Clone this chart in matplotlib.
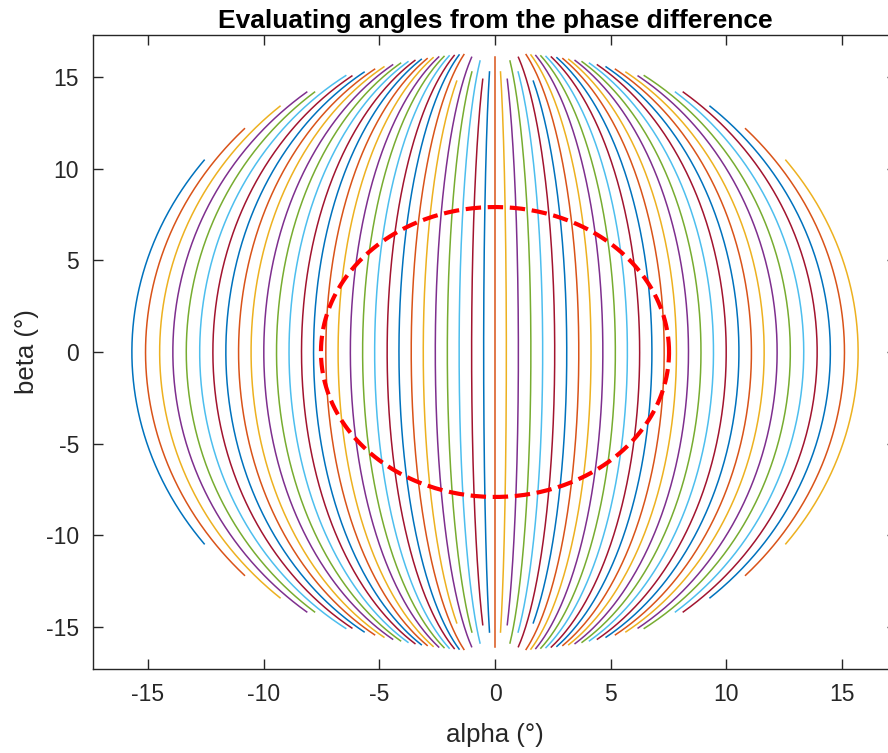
import numpy as np
import matplotlib
matplotlib.use('Agg')
import matplotlib.pyplot as plt

plt.rcParams['font.family'] = ['Liberation Sans', 'DejaVu Sans']
plt.rcParams['axes.unicode_minus'] = False

# alpha of each constant-phase arc where it crosses beta = 0 (deg), left to right
alpha_at_zero = [-15.69, -15.10, -14.49, -13.92, -13.34, -12.76, -12.19, -11.63, -11.08, -10.54,
                 -9.99, -9.44, -8.90, -8.36, -7.84, -7.31, -6.78, -6.25, -5.72, -5.20,
                 -4.66, -4.15, -3.62, -3.10, -2.58, -2.06, -1.55, -1.01, -0.49, 0.0,
                 0.49, 1.01, 1.55, 2.06, 2.58, 3.10, 3.62, 4.15, 4.66, 5.20,
                 5.72, 6.25, 6.78, 7.31, 7.84, 8.36, 8.90, 9.44, 9.99, 10.54,
                 11.08, 11.63, 12.19, 12.76, 13.34, 13.92, 14.49, 15.10, 15.69]
# largest |beta| reached by each arc (deg), same order
beta_end = [10.48, 12.2, 13.43, 14.2, 14.2, 15.1, 15.08, 15.29, 15.45, 15.58,
            15.69, 15.78, 15.86, 15.93, 15.99, 16.03, 16.08, 16.12, 16.15, 16.18,
            16.2, 16.23, 16.25, 14.8, 16.1, 15.3, 15.9, 14.9, 15.3, 16.1,
            15.3, 14.9, 15.9, 15.3, 16.1, 14.8, 16.25, 16.23, 16.2, 16.18,
            16.15, 16.12, 16.08, 16.03, 15.99, 15.93, 15.86, 15.78, 15.69, 15.58,
            15.45, 15.29, 15.08, 15.1, 14.2, 14.2, 13.43, 12.2, 10.48]
# beta at which the arcs would close on alpha = 0
beta_limit = 17.5

# dashed reference contour (semi-axes in deg)
contour_alpha = 7.52
contour_beta = 7.92

matlab_colors = ['#0072BD', '#D95319', '#EDB120', '#7E2F8E', '#77AC30', '#4DBEEE', '#A2142F']

fig = plt.figure(figsize=(8.88, 7.53), dpi=100)
ax = fig.add_axes([93 / 888, 84 / 753, 804 / 888, 634 / 753])

for i, (a0, b1) in enumerate(zip(alpha_at_zero, beta_end)):
    beta = np.linspace(-b1, b1, 300)
    alpha = a0 * np.sqrt(1 - (beta / beta_limit) ** 2)
    ax.plot(alpha, beta, color=matlab_colors[i % 7], linewidth=1.1)

t = np.linspace(0, 2 * np.pi, 400)
ax.plot(contour_alpha * np.cos(t), contour_beta * np.sin(t), 'r--', linewidth=3)

ax.set_xlim(-17.37, 17.37)
ax.set_ylim(-17.32, 17.32)
ticks = [-15, -10, -5, 0, 5, 10, 15]
ax.set_xticks(ticks)
ax.set_yticks(ticks)
ax.tick_params(direction='in', length=7, width=1, colors='#262626', labelsize=16.5,
               top=True, right=True, pad=10)
for s in ax.spines.values():
    s.set_color('#262626')
    s.set_linewidth(1)

ax.set_title('Evaluating angles from the phase difference', fontsize=19, fontweight='bold', pad=5)
ax.set_xlabel('alpha (°)', fontsize=18.5, color='#262626', labelpad=12)
ax.set_ylabel('beta (°)', fontsize=18.5, color='#262626', labelpad=5)

fig.savefig('out.png', dpi=100)
